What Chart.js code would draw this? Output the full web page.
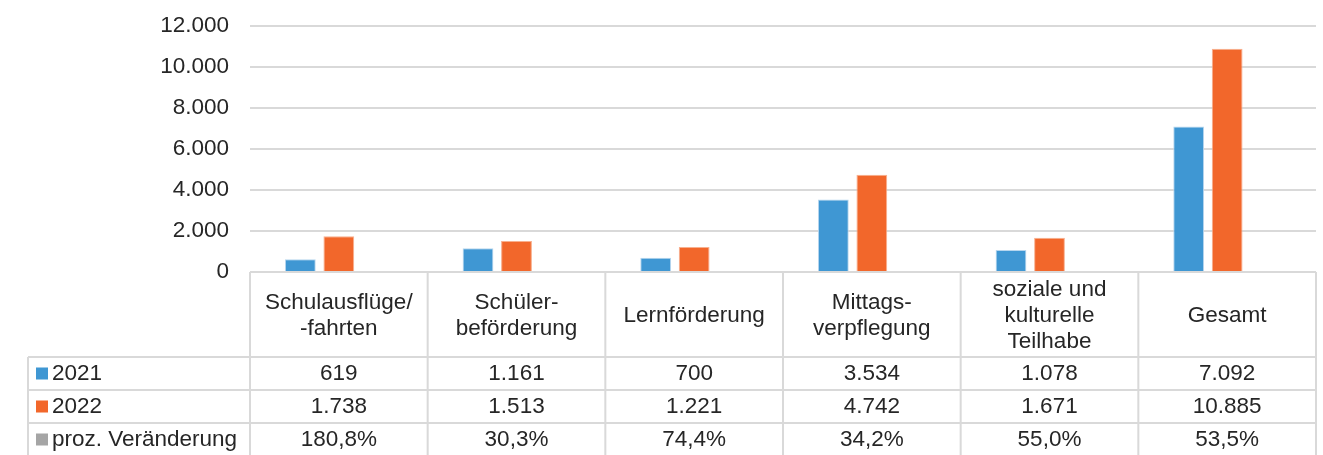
<!DOCTYPE html>
<html lang="de">
<head>
<meta charset="utf-8">
<title>Bildung und Teilhabe</title>
<script src="https://cdn.jsdelivr.net/npm/chart.js@4.4.0/dist/chart.umd.min.js"></script>
<style>
  html, body { margin: 0; padding: 0; background: #fff; }
  #wrap { width: 1323px; height: 455px; }
</style>
</head>
<body>
<div id="wrap"><canvas id="chart" width="1323" height="455"></canvas></div>
<script>
// Daten
var categories = [["Schulausflüge/", "-fahrten"], ["Schüler-", "beförderung"], ["Lernförderung"],
                  ["Mittags-", "verpflegung"], ["soziale und", "kulturelle", "Teilhabe"], ["Gesamt"]];
var series = ["2021", "2022", "proz. Veränderung"];
var werte2021 = [619, 1161, 700, 3534, 1078, 7092];
var werte2022 = [1738, 1513, 1221, 4742, 1671, 10885];
var veraenderung = [180.8, 30.3, 74.4, 34.2, 55.0, 53.5];
var yTicks = [0, 2000, 4000, 6000, 8000, 10000, 12000];

var farben = ["#3f97d3", "#f2672b", "#a5a5a5"];
var schrift = "22.5px 'Liberation Sans', Arial, sans-serif";
var linie = "#d9d9d9";

function tausend(v) {
  return String(v).replace(/\B(?=(\d{3})+(?!\d))/g, ".");
}
function prozent(v) {
  return v.toFixed(1).replace(".", ",") + "%";
}

// Datentabelle unter dem Diagramm
var tabelle = {
  id: "tabelle",
  afterDraw: function (chart) {
    var ctx = chart.ctx;
    var x = chart.scales.x;
    var area = chart.chartArea;
    var n = categories.length;
    var breite = (area.right - area.left) / n;
    var oben = area.bottom;
    var kopf = oben + 85;
    var zeilen = [kopf, kopf + 33, kopf + 66, kopf + 99];
    var links = 28;
    var unten = chart.height + 2;

    ctx.save();
    ctx.strokeStyle = linie;
    ctx.lineWidth = 2;
    ctx.beginPath();
    // waagerecht
    ctx.moveTo(area.left, oben); ctx.lineTo(area.right, oben);
    for (var r = 0; r < 3; r++) {
      ctx.moveTo(links, zeilen[r]); ctx.lineTo(area.right, zeilen[r]);
    }
    // senkrecht
    ctx.moveTo(links, kopf); ctx.lineTo(links, unten);
    for (var i = 0; i <= n; i++) {
      var xb = (i < n) ? x.getPixelForValue(i) - breite / 2 : x.getPixelForValue(n - 1) + breite / 2;
      ctx.moveTo(xb, oben); ctx.lineTo(xb, unten);
    }
    ctx.stroke();

    ctx.fillStyle = "#262626";
    ctx.font = schrift;
    ctx.textAlign = "center";
    ctx.textBaseline = "middle";
    var mitteKopf = (oben + kopf) / 2 + 1;
    var zeilenHoehe = 26;
    categories.forEach(function (cat, i) {
      var cx = x.getPixelForValue(i);
      var start = mitteKopf - (cat.length - 1) * zeilenHoehe / 2;
      cat.forEach(function (t, j) { ctx.fillText(t, cx, start + j * zeilenHoehe); });
    });

    var reihen = [werte2021.map(tausend), werte2022.map(tausend), veraenderung.map(prozent)];
    reihen.forEach(function (reihe, r) {
      var cy = zeilen[r] + 16.5;
      reihe.forEach(function (t, i) { ctx.fillText(t, x.getPixelForValue(i), cy); });
      ctx.fillStyle = farben[r];
      ctx.fillRect(36, cy - 6, 12, 12);
      ctx.fillStyle = "#262626";
      ctx.textAlign = "left";
      ctx.fillText(series[r], 52, cy);
      ctx.textAlign = "center";
    });
    ctx.restore();
  }
};

new Chart(document.getElementById("chart"), {
  type: "bar",
  data: {
    labels: categories,
    datasets: [
      { label: series[0], data: werte2021, backgroundColor: farben[0], borderColor: "#b7d6ee", borderWidth: 1 },
      { label: series[1], data: werte2022, backgroundColor: farben[1], borderColor: "#f8b08f", borderWidth: 1 },
      { label: series[2], data: veraenderung.map(function (v) { return v / 100; }), backgroundColor: farben[2] }
    ]
  },
  options: {
    responsive: false,
    animation: false,
    devicePixelRatio: 1,
    layout: { padding: { top: 26, right: 7, bottom: 183, left: 0 } },
    datasets: { bar: { barPercentage: 0.8, categoryPercentage: 0.65 } },
    plugins: { legend: { display: false }, tooltip: { enabled: false }, title: { display: false } },
    scales: {
      x: { display: false },
      y: {
        min: 0, max: 12000,
        afterBuildTicks: function (s) { s.ticks = yTicks.map(function (v) { return { value: v }; }); },
        afterFit: function (s) { s.width = 250; },
        border: { display: false },
        grid: { color: linie, lineWidth: 2, drawTicks: true, tickLength: 21, tickColor: "rgba(0,0,0,0)" },
        ticks: {
          padding: 0,
          color: "#262626",
          font: { family: "'Liberation Sans', Arial, sans-serif", size: 22.5 },
          callback: function (v) { return tausend(v); }
        }
      }
    }
  },
  plugins: [tabelle]
});
</script>
</body>
</html>
